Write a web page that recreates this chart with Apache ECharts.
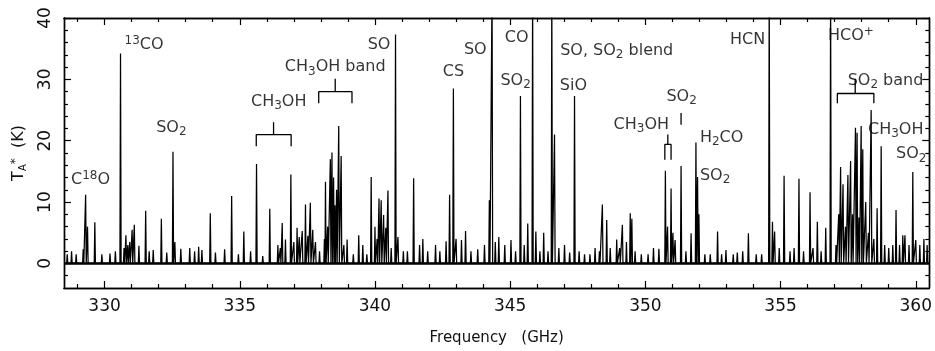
<!DOCTYPE html>
<html>
<head>
<meta charset="utf-8">
<script src="https://cdn.jsdelivr.net/npm/echarts@6/dist/echarts.min.js"></script>
<style>
html,body{margin:0;padding:0;background:#fff}
#chart{width:935px;height:351px}
</style>
</head>
<body>
<div id="chart"></div>
<script>
// line peaks (GHz, K)
var peakFreq = [
    328.62,328.78,328.95,329.21,329.30,329.37,329.64,329.90,330.20,330.40,
    330.59,330.72,330.79,330.86,330.93,331.02,331.10,331.27,331.52,331.65,
    331.80,332.10,332.30,332.53,332.60,332.82,333.15,333.33,333.48,333.60,
    333.91,334.10,334.44,334.70,334.95,335.15,335.40,335.62,335.85,336.11,
    336.41,336.50,336.57,336.69,336.89,337.00,337.12,337.20,337.31,337.43,
    337.52,337.61,337.70,337.80,337.95,338.13,338.17,338.25,338.35,338.41,
    338.47,338.52,338.58,338.66,338.75,338.85,338.97,339.20,339.40,339.55,
    339.70,339.86,340.00,340.08,340.15,340.23,340.32,340.40,340.48,340.60,
    340.76,340.85,341.05,341.20,341.43,341.65,341.77,341.95,342.24,342.40,
    342.63,342.76,342.90,343.00,343.20,343.35,343.55,343.80,344.05,344.23,
    344.33,344.45,344.58,344.80,345.03,345.20,345.38,345.52,345.65,345.83,
    345.95,346.10,346.24,346.40,346.54,346.64,346.80,347.01,347.20,347.38,
    347.55,347.75,347.95,348.14,348.30,348.41,348.57,348.70,348.94,349.05,
    349.15,349.30,349.44,349.50,349.62,349.85,350.10,350.30,350.50,350.74,
    350.82,350.95,351.02,351.10,351.32,351.50,351.69,351.87,351.93,351.98,
    352.20,352.40,352.67,352.82,352.98,353.25,353.40,353.60,353.81,354.10,
    354.30,354.58,354.70,354.78,354.95,355.13,355.35,355.50,355.68,355.85,
    356.09,356.20,356.36,356.50,356.67,356.85,357.05,357.15,357.22,357.31,
    357.40,357.49,357.59,357.66,357.77,357.83,357.90,357.98,358.04,358.15,
    358.25,358.35,358.45,358.57,358.72,358.85,359.00,359.15,359.27,359.40,
    359.52,359.60,359.75,359.89,360.00,360.15,360.30,360.42
];
var peakTemp = [
    1.5,2.0,1.5,2.3,11.2,6.0,6.7,1.5,1.6,2.0,
    34.2,2.5,4.6,3.0,3.5,5.5,6.3,2.9,8.6,2.0,
    2.2,7.3,1.8,18.2,3.5,2.4,2.5,2.0,2.7,2.2,
    8.2,1.8,2.3,11.0,1.5,5.2,2.0,16.2,1.2,8.9,
    3.0,2.5,6.6,3.9,14.5,3.5,5.8,4.3,5.3,9.6,
    4.5,9.9,5.5,3.5,2.0,4.0,13.3,6.0,17.0,18.1,
    14.0,9.5,12.0,22.4,17.5,3.0,3.9,1.5,4.6,3.0,
    1.5,14.1,6.0,4.0,10.6,10.3,7.9,5.8,11.9,2.5,
    37.3,4.3,2.0,2.0,13.9,3.0,4.0,2.0,3.0,2.0,
    3.6,11.2,28.5,4.0,3.8,5.3,2.0,2.3,3.0,10.3,
    45,3.5,4.3,3.0,3.8,2.0,27.3,3.0,6.5,45,
    5.2,2.0,5.0,2.0,45,21.0,2.5,3.0,1.8,27.3,
    2.0,1.5,1.5,2.5,2.0,9.6,7.1,2.5,3.9,2.5,
    6.3,3.5,8.2,7.3,2.0,1.5,1.5,2.5,2.4,15.1,
    6.0,12.2,5.0,3.8,15.9,2.0,4.9,19.7,14.1,8.0,
    1.5,1.5,5.2,1.5,2.2,1.5,1.8,2.0,4.9,1.5,
    1.5,45,6.8,5.2,2.5,14.3,2.0,2.5,13.8,2.0,
    11.6,2.5,6.8,2.0,5.8,45,3.0,8.0,15.7,12.9,
    6.0,14.4,16.7,8.0,22.1,21.3,7.5,22.4,18.6,10.0,
    5.0,25.0,4.0,9.0,19.1,3.0,2.5,3.0,8.7,3.0,
    4.6,4.6,3.0,14.9,3.8,3.0,4.0,3.0
];

// line identifications
var labelText = [
    'C{sup|18}O','{sup|13}CO','SO{sub|2}','CH{sub|3}OH','CH{sub|3}OH band','SO','CS','SO','CO',
    'SO{sub|2}','SO, SO{sub|2} blend','SiO','CH{sub|3}OH','SO{sub|2}','H{sub|2}CO','SO{sub|2}','HCN',
    'HCO{sup|+}','SO{sub|2} band','CH{sub|3}OH','SO{sub|2}'
];
var labelFreq = [329.48,331.46,332.47,336.44,338.53,340.15,342.90,343.71,345.24,
    345.20,348.94,347.34,349.85,351.34,352.82,352.58,353.78,
    357.60,358.88,359.26,359.83];
var labelTemp = [13.6,35.7,22.1,26.4,32.0,35.7,31.2,34.8,36.8,
    29.8,34.7,29.0,22.6,27.2,20.5,14.3,36.5,
    37.1,29.8,21.8,17.8];

// brackets: ends, centre, bar level, foot level, stem top
var bracketLo   = [335.61,337.92,357.10,350.72,351.32];
var bracketHi   = [336.90,339.15,358.45,350.95,351.32];
var bracketMid  = [336.25,338.53,357.76,350.83,351.32];
var bracketBar  = [21.0,28.0,27.7,19.4,22.6];
var bracketFoot = [19.1,26.1,26.1,16.9,22.6];
var bracketTop  = [23.0,30.1,30.1,21.0,24.5];

var xMajor = [330,335,340,345,350,355,360];
var xMinor = [];
for (var f = 329; f <= 360; f++) if (xMajor.indexOf(f) < 0) xMinor.push(f);
var yMajor = [0,10,20,30,40];
var yMinor = [-2,2,4,6,8,12,14,16,18,22,24,26,28,32,34,36,38];

var FONT = 'DejaVu Sans';
var HW = 0.022; // half width of a line in GHz

var spec = [];
for (var i = 0; i < peakFreq.length; i++) {
    spec.push([peakFreq[i]-HW, 0]);
    spec.push([peakFreq[i], peakTemp[i]]);
    spec.push([peakFreq[i]+HW, 0]);
}
spec.unshift([328.5, 0]);
spec.push([360.5, 0]);

var labelData = [];
for (var i = 0; i < labelText.length; i++) {
    labelData.push({value: [labelFreq[i], labelTemp[i]], name: labelText[i]});
}

var series = [{
    type: 'line',
    data: spec,
    showSymbol: false,
    symbol: 'none',
    lineStyle: {color: '#000', width: 1.25},
    silent: true,
    markLine: {
        silent: true, symbol: 'none', label: {show: false},
        lineStyle: {color: '#000', width: 2.6, type: 'solid'},
        data: [{yAxis: 0}]
    },
    z: 3
}, {
    type: 'scatter',
    data: labelData,
    symbolSize: 0,
    silent: true,
    label: {
        show: true, position: 'inside', color: '#000',
        fontFamily: FONT, fontSize: 16,
        formatter: function(p){ return p.name; },
        rich: {
            sub: {fontFamily: FONT, fontSize: 12, padding: [9,0,0,0], color: '#000'},
            sup: {fontFamily: FONT, fontSize: 12, padding: [0,0,8,0], color: '#000'}
        }
    },
    z: 5
}];
for (var i = 0; i < bracketLo.length; i++) {
    series.push({
        type: 'line', symbol: 'none', silent: true,
        lineStyle: {color: '#000', width: 1.3},
        data: [[bracketLo[i], bracketFoot[i]], [bracketLo[i], bracketBar[i]],
               [bracketMid[i], bracketBar[i]], [bracketMid[i], bracketTop[i]],
               [bracketMid[i], bracketBar[i]], [bracketHi[i], bracketBar[i]],
               [bracketHi[i], bracketFoot[i]]],
        z: 4
    });
}

var axLine = {show: true, onZero: false, lineStyle: {color: '#000', width: 1.4}};
function xAx(pos, ticks, len, withLabels) {
    var a = {
        type: 'value', min: 328.5, max: 360.5, position: pos,
        axisLine: axLine,
        axisTick: {show: true, inside: true, length: len, customValues: ticks, lineStyle: {color: '#000', width: 1.2}},
        axisLabel: {show: false},
        splitLine: {show: false}
    };
    if (withLabels) {
        a.axisLabel = {show: true, customValues: ticks, margin: 10, color: '#111', fontFamily: FONT, fontSize: 17};
        a.name = 'Frequency   (GHz)';
        a.nameLocation = 'middle';
        a.nameGap = 43;
        a.nameTextStyle = {color: '#111', fontFamily: FONT, fontSize: 15};
    }
    return a;
}
function yAx(pos, ticks, len, withLabels) {
    var a = {
        type: 'value', min: -4, max: 40, position: pos,
        axisLine: axLine,
        axisTick: {show: true, inside: true, length: len, customValues: ticks, lineStyle: {color: '#000', width: 1.2}},
        axisLabel: {show: false},
        splitLine: {show: false}
    };
    if (withLabels) {
        a.axisLabel = {show: true, customValues: ticks, rotate: 90, margin: 10, color: '#111', fontFamily: FONT, fontSize: 17};
        a.name = 'T{sub|A}{sup|*}  (K)';
        a.nameLocation = 'middle';
        a.nameGap = 36;
        a.nameTextStyle = {color: '#111', fontFamily: FONT, fontSize: 16,
            rich: {
                sub: {fontFamily: FONT, fontSize: 10, padding: [8,0,0,0], color: '#111'},
                sup: {fontFamily: FONT, fontSize: 12, padding: [0,0,6,0], color: '#111'}
            }};
    }
    return a;
}

var myChart = echarts.init(document.getElementById('chart'), null, {renderer: 'canvas'});
myChart.setOption({
    backgroundColor: '#fff',
    animation: false,
    grid: {left: 64, right: 4, top: 18, bottom: 59},
    xAxis: [xAx('bottom', xMajor, 7, true), xAx('bottom', xMinor, 4, false),
            xAx('top', xMajor, 7, false), xAx('top', xMinor, 4, false)],
    yAxis: [yAx('left', yMajor, 7, true), yAx('left', yMinor, 4, false),
            yAx('right', yMajor, 7, false), yAx('right', yMinor, 4, false)],
    series: series
});
</script>
</body>
</html>
